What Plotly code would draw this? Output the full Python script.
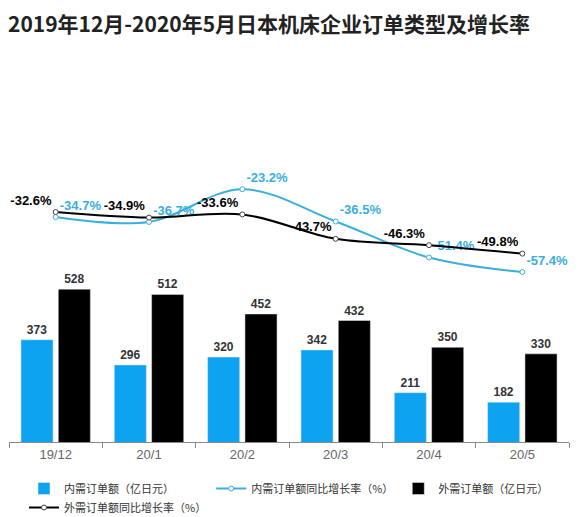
import plotly.graph_objects as go

categories = ["19/12", "20/1", "20/2", "20/3", "20/4", "20/5"]
domestic_orders = [373, 296, 320, 342, 211, 182]
foreign_orders = [528, 512, 452, 432, 350, 330]
domestic_growth = [-34.7, -36.7, -23.2, -36.5, -51.4, -57.4]
foreign_growth = [-32.6, -34.9, -33.6, -43.7, -46.3, -49.8]

BAR_BLUE = "#0ea3f0"
LINE_BLUE = "#3aaede"
BLACK = "#000000"
# page has an 8px body margin, so the figure is 8px smaller and offset
OFF = 8
W, H = 582 - OFF, 517 - OFF
L, R, T, B = 1, 13, 60 - OFF, 75
plot_h = H - T - B

# primary axis: baseline ~60, 0.3266 px per unit
y1_min = 60
y1_max = y1_min + plot_h / 0.3266
# secondary axis: 2.42 px per %, -32.6 at page y=212
px_per = 2.42
y_ref = 212 - OFF
y2_top = -32.6 + (y_ref - T) / px_per
y2_bot = -32.6 - ((H - B) - y_ref) / px_per

NUM_FONT = "Liberation Sans, Arial, sans-serif"

fig = go.Figure()
fig.add_trace(go.Bar(
    x=categories, y=domestic_orders, name="内需订单额（亿日元）",
    marker=dict(color=BAR_BLUE), text=domestic_orders, textposition="outside",
    textfont=dict(size=12, color="#333", weight="bold", family=NUM_FONT), cliponaxis=False,
))
fig.add_trace(go.Scatter(
    x=categories, y=domestic_growth, name="内需订单额同比增长率（%）", yaxis="y2",
    mode="lines+markers+text", line=dict(color=LINE_BLUE, width=2, shape="spline", smoothing=1),
    marker=dict(size=5, color="white", line=dict(color=LINE_BLUE, width=1)),
    text=[f"{v}%" for v in domestic_growth], textposition="top right",
    textfont=dict(size=13, color=LINE_BLUE, weight="bold", family=NUM_FONT), cliponaxis=False,
))
fig.add_trace(go.Bar(
    x=categories, y=foreign_orders, name="外需订单额（亿日元）",
    marker=dict(color=BLACK), text=foreign_orders, textposition="outside",
    textfont=dict(size=12, color="#333", weight="bold", family=NUM_FONT), cliponaxis=False,
))
fig.add_trace(go.Scatter(
    x=categories, y=foreign_growth, name="外需订单额同比增长率（%）", yaxis="y2",
    mode="lines+markers+text", line=dict(color=BLACK, width=2, shape="spline", smoothing=1),
    marker=dict(size=5, color="white", line=dict(color="#444", width=1)),
    text=[f"{v}%" for v in foreign_growth], textposition="top left",
    textfont=dict(size=13, color=BLACK, weight="bold", family=NUM_FONT), cliponaxis=False,
))

fig.update_layout(
    width=W, height=H,
    margin=dict(l=L, r=R, t=T, b=B, autoexpand=False),
    paper_bgcolor="white", plot_bgcolor="white",
    font=dict(family="Noto Sans CJK SC, Liberation Sans, sans-serif", color="#333"),
    title=dict(text="<b>2019年12月-2020年5月日本机床企业订单类型及增长率</b>",
               xref="container", yref="container", x=0, xanchor="left",
               y=1 - 17 / H, yanchor="middle",
               font=dict(size=21, color="#222")),
    barmode="group", bargap=0.2, bargroupgap=0.14,
    xaxis=dict(showline=True, linecolor="#888", ticks="outside", tickcolor="#888",
               ticklen=5, tickson="boundaries", showgrid=False, range=[-0.5, 5.5],
               tickfont=dict(size=13, color="#666", family=NUM_FONT)),
    yaxis=dict(visible=False, range=[y1_min, y1_max], showgrid=False),
    yaxis2=dict(visible=False, overlaying="y", range=[y2_bot, y2_top], showgrid=False),
    legend=dict(orientation="h", x=0.5, xanchor="center",
                yref="container", y=1 - 466 / H, yanchor="top",
                font=dict(size=11, color="#333"), itemwidth=30, tracegroupgap=0),
    showlegend=True,
)

fig.write_html("out.html")
